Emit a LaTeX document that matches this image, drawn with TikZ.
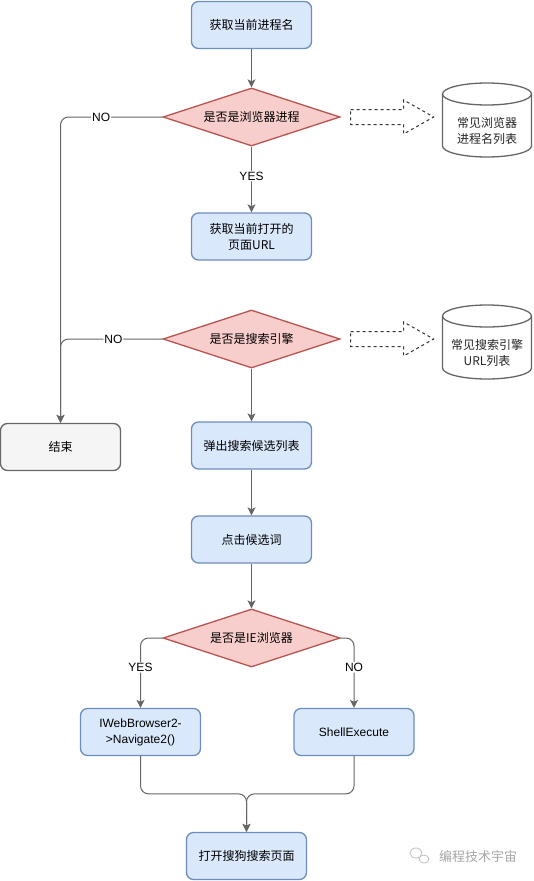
\documentclass[tikz,border=0pt]{standalone}
\usepackage{fontspec}
\setmainfont{Liberation Sans}
\newfontfamily\cjk{Noto Sans CJK SC}
\usepackage{tikz}
\usetikzlibrary{arrows.meta,positioning,shapes.geometric,calc}
\definecolor{dioblue}{HTML}{6C8EBF}
\definecolor{diofill}{HTML}{DAE8FC}
\definecolor{diored}{HTML}{B85450}
\definecolor{diopink}{HTML}{F8CECC}
\definecolor{diogray}{HTML}{666666}
\definecolor{diolight}{HTML}{F5F5F5}
\newcommand\fs{\fontsize{12pt}{16pt}\selectfont}

\begin{document}
\begin{tikzpicture}[
  x=1pt,y=1pt,
  every node/.style={font=\cjk\fs},
  R/.style={draw=dioblue,line width=1.3pt,rounded corners=7pt,
            minimum height=47pt,minimum width=120pt,
            align=center,fill=diofill},
  E/.style={R,draw=diogray,fill=diolight},
  D/.style={diamond,aspect=3,inner sep=0pt,draw=diored,line width=1.3pt,
            fill=diopink,minimum width=177pt,minimum height=58pt},
  C/.style={draw=diogray,line width=1.3pt,fill=white},
  A/.style={draw=black!80,dash pattern=on 3pt off 3pt,line width=1pt},
  ar/.style={-{Stealth[length=8pt,width=8pt,inset=2pt]},line width=1pt,
             diogray,rounded corners=8pt},
  lb/.style={fill=white,inner sep=1pt,text=black,font=\fs}
]
\useasboundingbox (0,0) rectangle (533,-881);

\node[R](n1) at (251.5,-25){获取当前进程名};
\node[D](d1) at (251.5,-117){是否是浏览器进程};
\node[R](n2) at (251.5,-236.5){获取当前打开的\\页面URL};
\node[D](d2) at (251.5,-339){是否是搜索引擎};
\node[R](n3) at (251.5,-445.5){弹出搜索候选列表};
\node[R](n4) at (251.5,-539.5){点击候选词};
\node[D](d3) at (251.5,-638){是否是IE浏览器};
\node[R,font=\fs](n5) at (140.5,-732){IWebBrowser2-\\>Navigate2()};
\node[R,font=\fs](n6) at (354,-732){ShellExecute};
\node[R](n7) at (246.5,-856){打开搜狗搜索页面};
\node[E](e) at (60.5,-447){结束};

% lookup tables
\foreach \c/\y/\t in {c1/120/常见浏览器\\进程名列表,c2/342/常见搜索引擎\\URL列表}{
  \draw[C,shift={(487,-\y)}] (-44.5,26) -- (-44.5,-26)
    arc[start angle=180,end angle=360,x radius=44.5,y radius=11]
    -- (44.5,26)
    arc[start angle=0,end angle=180,x radius=44.5,y radius=11] -- cycle;
  \draw[C,shift={(487,-\y)}] (-44.5,26)
    arc[start angle=180,end angle=360,x radius=44.5,y radius=11];
  \node[align=center,text=black!85](\c) at (487,-\y-11){\t};
}
\foreach \d in {d1,d2}
  \draw[A,shift={(\d.east)}] (10,7.5) -- (63,7.5) -- (63,17) -- (93,0)
    -- (63,-17) -- (63,-7.5) -- (10,-7.5) -- cycle;

\draw[ar](n1)--(d1);
\draw[ar](d1)--node[lb,pos=0.45]{YES}(n2);
\draw[ar](d1.west)--node[lb,pos=0.6]{NO}(d1.west-|e.north)--(e.north);
\draw[ar](d2.west)--node[lb,pos=0.48]{NO}(d2.west-|e.north)--(e.north);
\draw[ar](d2)--(n3);
\draw[ar](n3)--(n4);
\draw[ar](n4)--(d3);
\draw[ar](d3.west)-|node[lb,pos=0.71]{YES}(n5.north);
\draw[ar](d3.east)-|node[lb,pos=0.71]{NO}(n6.north);
\coordinate(j) at ([yshift=38pt]n7.north);
\draw[ar](n5.south)|-(j)--(n7.north);
\draw[ar](n6.south)|-(j)--(n7.north);

% watermark
\draw[gray!50,line width=0.8pt] (416,-853) ellipse[x radius=6,y radius=5]
  (424,-859) ellipse[x radius=5,y radius=4];
\node[text=gray!70,font=\cjk\fontsize{13pt}{13pt}\selectfont](wm) at (478,-857){编程技术宇宙};
\end{tikzpicture}
\end{document}
